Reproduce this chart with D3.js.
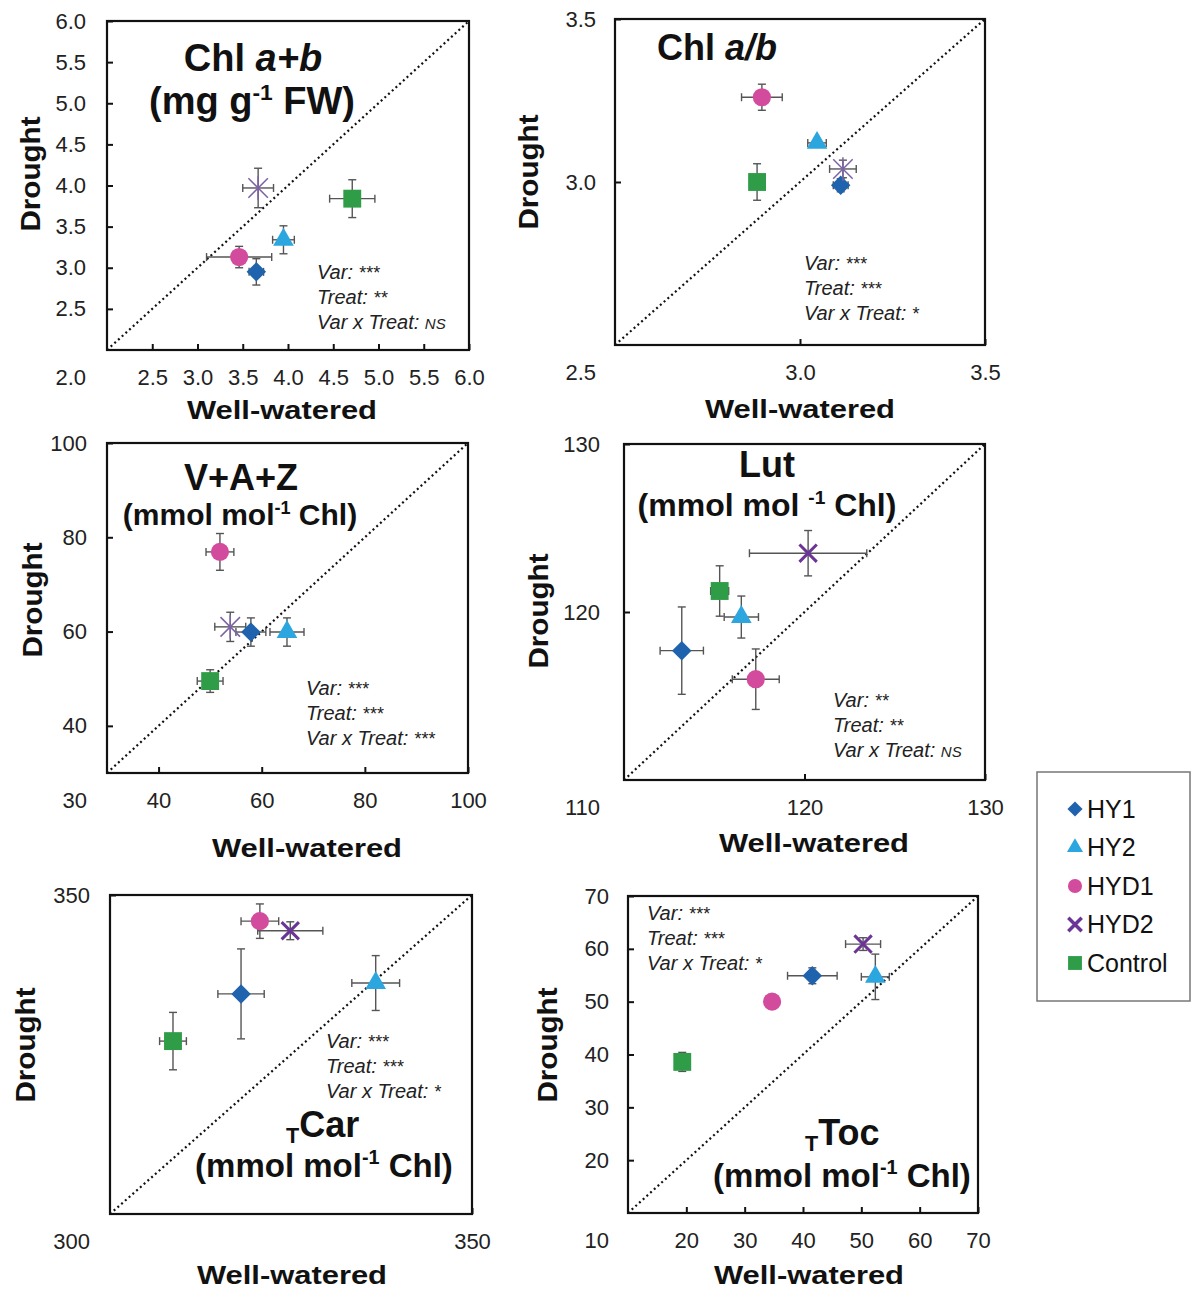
<!DOCTYPE html>
<html>
<head>
<meta charset="utf-8">
<script src="https://cdn.jsdelivr.net/npm/d3@7"></script>
<style>
  body { margin: 0; background: #fff; }
  svg { display: block; font-family: "Liberation Sans", Arial, sans-serif; }
  .tick text { font-size: 22px; fill: #222; }
</style>
</head>
<body>
<svg id="fig" width="1192" height="1290"></svg>
<script>
// genotypes, in legend order
const genotypes = ["HY1", "HY2", "HYD1", "HYD2", "Control"];

// Chl a+b (mg g-1 FW)
const chlabWW    = [3.65, 3.95, 3.46, 3.67, 4.71];
const chlabWWErr = [0.08, 0.12, 0.36, 0.17, 0.25];
const chlabDR    = [2.95, 3.34, 3.13, 3.97, 3.84];
const chlabDRErr = [0.16, 0.17, 0.13, 0.24, 0.23];
const chlabTicks = [2.0, 2.5, 3.0, 3.5, 4.0, 4.5, 5.0, 5.5, 6.0];
const chlabStats = ["***", "**", "NS"];

// Chl a/b
const ratioWW    = [3.11, 3.046, 2.897, 3.116, 2.884];
const ratioWWErr = [0.02, 0.025, 0.055, 0.036, 0.01];
const ratioDR    = [2.99, 3.12, 3.26, 3.04, 3.0];
const ratioDRErr = [0.02, 0.012, 0.04, 0.027, 0.056];
const ratioTicks = [2.5, 3.0, 3.5];
const ratioStats = ["***", "***", "*"];

// V+A+Z (mmol mol-1 Chl)
const vazWW    = [57.9, 64.9, 51.9, 53.9, 50.0];
const vazWWErr = [2.9, 3.3, 2.7, 3.0, 2.5];
const vazDR    = [59.9, 59.9, 76.9, 61.0, 49.5];
const vazDRErr = [3.0, 3.0, 3.9, 3.1, 2.4];
const vazTicks = [30, 40, 60, 80, 100];
const vazStats = ["***", "***", "***"];

// Lut (mmol mol-1 Chl)
const lutWW    = [113.2, 116.5, 117.3, 120.2, 115.3];
const lutWWErr = [1.2, 0.95, 1.3, 3.25, 0.5];
const lutDR    = [117.7, 119.7, 116.0, 123.5, 121.25];
const lutDRErr = [2.6, 1.25, 1.8, 1.35, 1.5];
const lutTicks = [110, 120, 130];
const lutStats = ["**", "**", "NS"];

// TCar (mmol mol-1 Chl)
const carWW    = [318.1, 336.7, 320.7, 324.9, 308.7];
const carWWErr = [3.2, 3.3, 2.6, 4.5, 1.85];
const carDR    = [334.5, 336.2, 345.9, 344.4, 327.1];
const carDRErr = [7.05, 4.3, 2.7, 1.4, 4.5];
const carTicks = [300, 350];
const carStats = ["***", "***", "*"];

// TToc (mmol mol-1 Chl)
const tocWW    = [41.6, 52.4, 34.7, 50.3, 19.3];
const tocWWErr = [4.25, 2.4, 0.5, 3.0, 0.5];
const tocDR    = [54.9, 54.7, 50.0, 60.9, 38.6];
const tocDRErr = [1.5, 4.3, 0.5, 1.2, 1.8];
const tocTicks = [10, 20, 30, 40, 50, 60, 70];
const tocStats = ["***", "***", "*"];

// marker look per genotype
const colors = { HY1: "#1f62ad", HY2: "#2ba6de", HYD1: "#d24b9d", HYD2: "#6b3598", Control: "#2f9d48" };

// custom symbols
const symDiamond = { draw(ctx, size) {
  const r = Math.sqrt(size / 2);
  ctx.moveTo(0, -r); ctx.lineTo(r, 0); ctx.lineTo(0, r); ctx.lineTo(-r, 0); ctx.closePath();
}};
const symX = { draw(ctx, size) {
  const r = Math.sqrt(size) / 2;
  ctx.moveTo(-r, -r); ctx.lineTo(r, r); ctx.moveTo(r, -r); ctx.lineTo(-r, r);
}};
const symStar = { draw(ctx, size) {
  const r = Math.sqrt(size) / 2;
  ctx.moveTo(-r, -r); ctx.lineTo(r, r); ctx.moveTo(r, -r); ctx.lineTo(-r, r);
  ctx.moveTo(0, -r * 1.2); ctx.lineTo(0, r * 1.2);
}};

function markerAttrs(g, style, scale) {
  scale = scale || 1;
  if (g === "HY1") return { type: symDiamond, size: 190 * scale, fill: colors.HY1 };
  if (g === "HY2") return { type: d3.symbolTriangle, size: 185 * scale, fill: colors.HY2 };
  if (g === "HYD1") return { type: d3.symbolCircle, size: 260 * scale, fill: colors.HYD1 };
  if (g === "Control") return { type: d3.symbolSquare, size: 320 * scale, fill: colors.Control };
  if (style === "star") return { type: symStar, size: 380 * scale, stroke: "#7d62a6", sw: 1.5 };
  return { type: symX, size: 300 * scale, stroke: colors.HYD2, sw: 3 };
}

const panels = [
  { ww: chlabWW, wwErr: chlabWWErr, dr: chlabDR, drErr: chlabDRErr, ticks: chlabTicks, fmt: ".1f",
    stats: chlabStats, box: [107, 21, 469, 350], yPad: 21, hyd2: "star",
    drought: [30, 174], well: [282, 419], statsAt: [317, 279],
    title: [
      { x: 253, y: 71, size: 38, anchor: "middle", parts: [["Chl ", ""], ["a+b", "i"]] },
      { x: 252, y: 114, size: 38, anchor: "middle", parts: [["(mg g", ""], ["-1", "sup"], [" FW)", ""]] }
    ] },
  { ww: ratioWW, wwErr: ratioWWErr, dr: ratioDR, drErr: ratioDRErr, ticks: ratioTicks, fmt: ".1f",
    stats: ratioStats, box: [615, 19, 985, 345], yPad: 19, hyd2: "star",
    drought: [528, 172], well: [800, 418], statsAt: [804, 270],
    title: [
      { x: 657, y: 60, size: 36, anchor: "start", parts: [["Chl ", ""], ["a/b", "i"]] }
    ] },
  { ww: vazWW, wwErr: vazWWErr, dr: vazDR, drErr: vazDRErr, ticks: vazTicks, fmt: "d",
    stats: vazStats, box: [107, 443, 468, 773], yPad: 20, hyd2: "star",
    drought: [32, 600], well: [307, 857], statsAt: [306, 695],
    title: [
      { x: 241, y: 490, size: 36, anchor: "middle", parts: [["V+A+Z", ""]] },
      { x: 240, y: 525, size: 30, anchor: "middle", parts: [["(mmol mol", ""], ["-1", "sup"], [" Chl)", ""]] }
    ] },
  { ww: lutWW, wwErr: lutWWErr, dr: lutDR, drErr: lutDRErr, ticks: lutTicks, fmt: "d",
    stats: lutStats, box: [624, 444, 985, 780], yPad: 24, hyd2: "x",
    drought: [538, 611], well: [814, 852], statsAt: [833, 707],
    title: [
      { x: 767, y: 477, size: 36, anchor: "middle", parts: [["Lut", ""]] },
      { x: 767, y: 516, size: 32, anchor: "middle", parts: [["(mmol mol ", ""], ["-1", "sup"], [" Chl)", ""]] }
    ] },
  { ww: carWW, wwErr: carWWErr, dr: carDR, drErr: carDRErr, ticks: carTicks, fmt: "d",
    stats: carStats, box: [110, 895, 472, 1214], yPad: 20, hyd2: "x",
    drought: [25, 1045], well: [292, 1284], statsAt: [326, 1048],
    title: [
      { x: 286, y: 1137, size: 36, anchor: "start", parts: [["T", "sub"], ["Car", ""]] },
      { x: 324, y: 1177, size: 33, anchor: "middle", parts: [["(mmol mol", ""], ["-1", "sup"], [" Chl)", ""]] }
    ] },
  { ww: tocWW, wwErr: tocWWErr, dr: tocDR, drErr: tocDRErr, ticks: tocTicks, fmt: "d",
    stats: tocStats, box: [628, 896, 978, 1213], yPad: 19, hyd2: "x",
    drought: [547, 1045], well: [809, 1284], statsAt: [647, 920],
    title: [
      { x: 805, y: 1145, size: 36, anchor: "start", parts: [["T", "sub"], ["Toc", ""]] },
      { x: 842, y: 1187, size: 33, anchor: "middle", parts: [["(mmol mol", ""], ["-1", "sup"], [" Chl)", ""]] }
    ] }
];

const svg = d3.select("#fig");

function richText(parent, spec) {
  const t = parent.append("text")
    .attr("x", spec.x).attr("y", spec.y)
    .attr("text-anchor", spec.anchor)
    .style("font-size", spec.size + "px")
    .style("font-weight", "bold")
    .attr("fill", "#111");
  let shift = 0;
  spec.parts.forEach(([s, kind]) => {
    const sp = t.append("tspan").text(s);
    let target = 0;
    if (kind === "sup") { target = -spec.size * 0.38; sp.style("font-size", (spec.size * 0.6) + "px"); }
    if (kind === "sub") { target = spec.size * 0.18; sp.style("font-size", (spec.size * 0.6) + "px"); }
    if (kind === "i") sp.style("font-style", "italic");
    if (target !== shift) { sp.attr("dy", target - shift); shift = target; }
  });
}

panels.forEach(p => {
  const [x0, y0, x1, y1] = p.box;
  const lo = p.ticks[0], hi = p.ticks[p.ticks.length - 1];
  const x = d3.scaleLinear().domain([lo, hi]).range([x0, x1]);
  const y = d3.scaleLinear().domain([lo, hi]).range([y1, y0]);
  const fmt = d3.format(p.fmt);
  const g = svg.append("g");

  // axes, ticks pointing inward
  g.append("g")
    .attr("transform", `translate(0,${y1})`)
    .call(d3.axisBottom(x).tickValues(p.ticks.slice(1)).tickFormat(fmt)
      .tickSizeInner(-6).tickSizeOuter(0).tickPadding(19))
    .call(a => a.select(".domain").remove())
    .call(a => a.selectAll(".tick line").attr("stroke", "#111").attr("stroke-width", 2));
  g.append("g")
    .attr("transform", `translate(${x0},0)`)
    .call(d3.axisLeft(y).tickValues(p.ticks.slice(1)).tickFormat(fmt)
      .tickSizeInner(-6).tickSizeOuter(0).tickPadding(p.yPad))
    .call(a => a.select(".domain").remove())
    .call(a => a.selectAll(".tick line").attr("stroke", "#111").attr("stroke-width", 2));
  // shared corner label for the minimum
  g.append("text")
    .attr("x", x0 - p.yPad).attr("y", y1 + 19).attr("dy", "0.71em")
    .attr("text-anchor", "end")
    .style("font-size", "22px").attr("fill", "#222")
    .text(fmt(lo));

  // 1:1 line
  g.append("line")
    .attr("x1", x(lo)).attr("y1", y(lo)).attr("x2", x(hi)).attr("y2", y(hi))
    .attr("stroke", "#111").attr("stroke-width", 2.2).attr("stroke-dasharray", "2,3");

  // frame
  g.append("rect")
    .attr("x", x0).attr("y", y0).attr("width", x1 - x0).attr("height", y1 - y0)
    .attr("fill", "none").attr("stroke", "#111").attr("stroke-width", 2.2);

  const pts = genotypes.map((name, i) => ({
    name, wx: p.ww[i], we: p.wwErr[i], dy: p.dr[i], de: p.drErr[i]
  }));

  // error bars
  const eb = g.append("g").attr("stroke", "#555").attr("stroke-width", 1.4);
  pts.forEach(d => {
    const cx = x(d.wx), cy = y(d.dy);
    const xa = x(d.wx - d.we), xb = x(d.wx + d.we);
    const ya = y(d.dy - d.de), yb = y(d.dy + d.de);
    eb.append("line").attr("x1", xa).attr("x2", xb).attr("y1", cy).attr("y2", cy);
    eb.append("line").attr("x1", xa).attr("x2", xa).attr("y1", cy - 4).attr("y2", cy + 4);
    eb.append("line").attr("x1", xb).attr("x2", xb).attr("y1", cy - 4).attr("y2", cy + 4);
    eb.append("line").attr("x1", cx).attr("x2", cx).attr("y1", ya).attr("y2", yb);
    eb.append("line").attr("x1", cx - 4).attr("x2", cx + 4).attr("y1", ya).attr("y2", ya);
    eb.append("line").attr("x1", cx - 4).attr("x2", cx + 4).attr("y1", yb).attr("y2", yb);
  });

  // markers
  g.selectAll(".pt").data(pts).join("path")
    .attr("class", "pt")
    .attr("transform", d => `translate(${x(d.wx)},${y(d.dy)})`)
    .each(function(d) {
      const m = markerAttrs(d.name, p.hyd2);
      d3.select(this)
        .attr("d", d3.symbol().type(m.type).size(m.size)())
        .attr("fill", m.fill || "none")
        .attr("stroke", m.stroke || "none")
        .attr("stroke-width", m.sw || 0);
    });

  // titles
  p.title.forEach(t => richText(g, t));

  // axis titles
  g.append("text")
    .attr("transform", `translate(${p.drought[0]},${p.drought[1]}) rotate(-90)`)
    .attr("text-anchor", "middle").attr("dominant-baseline", "central")
    .style("font-size", "28px").style("font-weight", "bold").attr("fill", "#111")
    .attr("textLength", 115).attr("lengthAdjust", "spacingAndGlyphs")
    .text("Drought");
  g.append("text")
    .attr("x", p.well[0]).attr("y", p.well[1])
    .attr("text-anchor", "middle")
    .style("font-size", "26px").style("font-weight", "bold").attr("fill", "#111")
    .attr("textLength", 190).attr("lengthAdjust", "spacingAndGlyphs")
    .text("Well-watered");

  // ANOVA summary
  const labels = ["Var: ", "Treat: ", "Var x Treat: "];
  labels.forEach((lab, i) => {
    const t = g.append("text")
      .attr("x", p.statsAt[0]).attr("y", p.statsAt[1] + i * 25)
      .style("font-size", "20px").style("font-style", "italic").attr("fill", "#222");
    t.append("tspan").text(lab);
    t.append("tspan").text(p.stats[i])
      .style("font-size", p.stats[i] === "NS" ? "15px" : "18px");
  });
});

// legend
const lg = svg.append("g");
lg.append("rect").attr("x", 1037).attr("y", 772).attr("width", 153).attr("height", 229)
  .attr("fill", "#fff").attr("stroke", "#777").attr("stroke-width", 1.5);
genotypes.forEach((name, i) => {
  const cy = 809 + i * 38.5;
  const m = markerAttrs(name, "x", 0.6);
  lg.append("path")
    .attr("transform", `translate(1075,${cy})`)
    .attr("d", d3.symbol().type(m.type).size(m.size)())
    .attr("fill", m.fill || "none")
    .attr("stroke", m.stroke || "none")
    .attr("stroke-width", m.sw ? 3.5 : 0);
  lg.append("text")
    .attr("x", 1087).attr("y", cy).attr("dy", "0.35em")
    .style("font-size", "25px").attr("fill", "#111")
    .text(name);
});
</script>
</body>
</html>
